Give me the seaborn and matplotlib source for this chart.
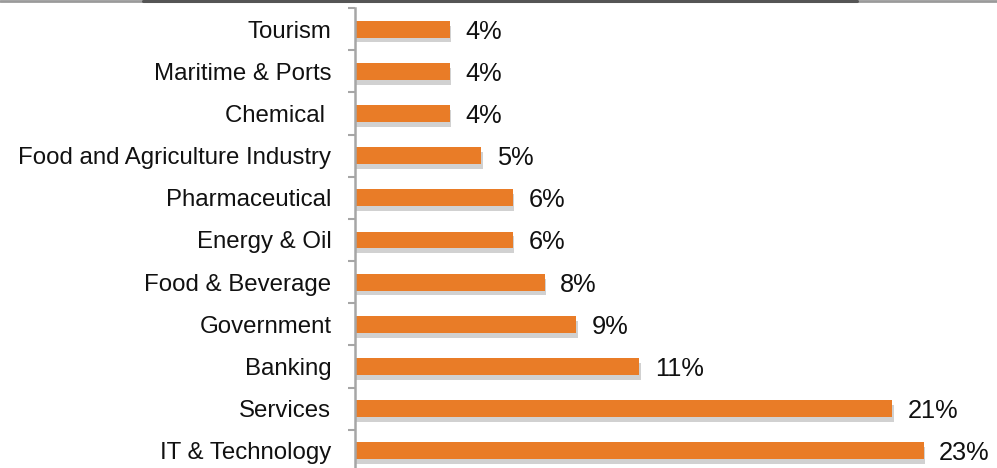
import numpy as np
import pandas as pd
import matplotlib
matplotlib.use("Agg")
import matplotlib.pyplot as plt
import matplotlib.patheffects as pe
from matplotlib.lines import Line2D
import seaborn as sns

# sector shares, top to bottom as in the chart
sectors = ["Tourism", "Maritime & Ports", "Chemical ", "Food and Agriculture Industry",
           "Pharmaceutical", "Energy & Oil", "Food & Beverage", "Government",
           "Banking", "Services", "IT & Technology"]
shares = [3.75, 3.75, 3.75, 5.0, 6.25, 6.25, 7.5, 8.75, 11.25, 21.25, 22.5]
share_labels = ["4%", "4%", "4%", "5%", "6%", "6%", "8%", "9%", "11%", "21%", "23%"]

sns.set_style("white")
plt.rcParams["font.family"] = ["Liberation Sans", "DejaVu Sans"]

df = pd.DataFrame({"sector": sectors, "share": shares})

fig = plt.figure(figsize=(9.97, 4.68), dpi=100)
ax = fig.add_axes([355 / 997, -4 / 468, 632 / 997, 464 / 468])

sns.barplot(data=df, x="share", y="sector", orient="h", color="#E97C27",
            width=0.4, saturation=1, errorbar=None, ax=ax)

shadow = pe.SimplePatchShadow(offset=(1, -3.5), shadow_rgbFace="#8c8c8c", alpha=0.4)
for p in ax.patches:
    p.set_path_effects([shadow, pe.Normal()])
    p.set_edgecolor("none")

texts = ax.bar_label(ax.containers[0], labels=share_labels, padding=11, fontsize=18.3,
                     color="#111111")
for t in texts:
    t.set_va("center_baseline")

ax.set_xlim(0, 25)
ax.set_xlabel("")
ax.set_ylabel("")
ax.xaxis.set_visible(False)

for s in ["top", "right", "bottom"]:
    ax.spines[s].set_visible(False)
ax.spines["left"].set_color("#A6A6A6")
ax.spines["left"].set_linewidth(1.8)

n = len(sectors)
ax.set_yticks(np.arange(n))
ax.set_yticklabels(sectors, fontsize=17.3, color="#111111")
ax.tick_params(axis="y", which="major", length=0, pad=17)
ax.set_yticks(np.arange(n + 1) - 0.5, minor=True)
ax.tick_params(axis="y", which="minor", length=5, width=1.5, color="#A6A6A6", left=True)
ax.set_ylim(n - 0.5, -0.5)

# thin border strip along the top edge of the image
fig.add_artist(Line2D([0, 1], [0.998, 0.998], transform=fig.transFigure, color="#9a9a9a", lw=2))
fig.add_artist(Line2D([143 / 997, 857 / 997], [0.998, 0.998], transform=fig.transFigure, color="#555555", lw=2.2))

fig.savefig("out.png", dpi=100)
